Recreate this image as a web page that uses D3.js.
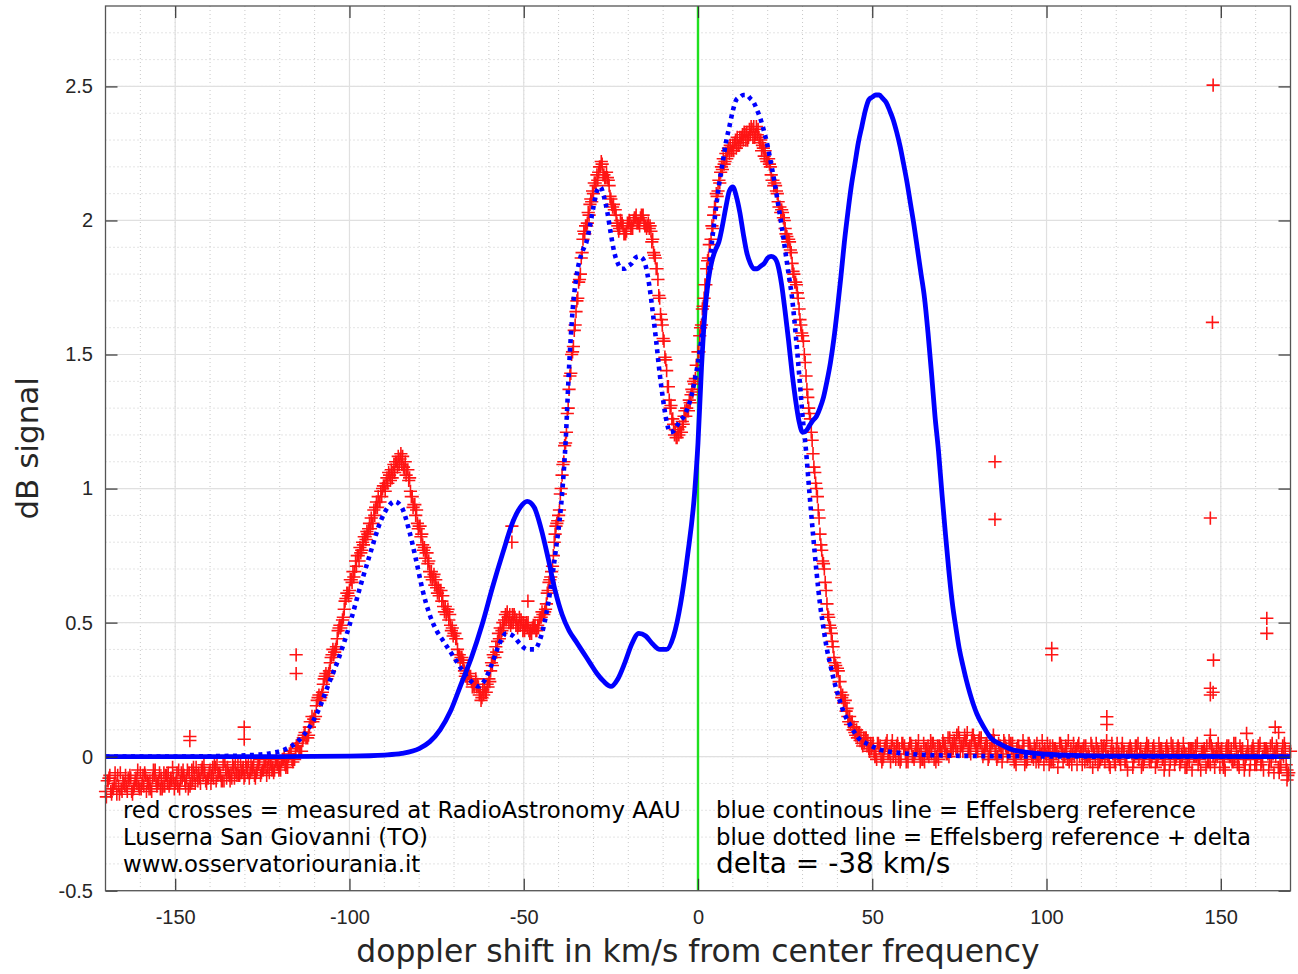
<!DOCTYPE html>
<html><head><meta charset="utf-8">
<script src="https://cdn.jsdelivr.net/npm/d3@7"></script>
<style>body{margin:0;background:#fff} svg{display:block}</style>
</head><body><svg id="c" width="1298" height="974"></svg>
<script>
// ---- data ----
const xTicks = [-150, -100, -50, 0, 50, 100, 150];
const xTickLabels = ['-150', '-100', '-50', '0', '50', '100', '150'];
const yTicks = [-0.5, 0, 0.5, 1, 1.5, 2, 2.5];
const yTickLabels = ['-0.5', '0', '0.5', '1', '1.5', '2', '2.5'];

// Effelsberg reference (blue continuous)
const refX = [-170, -120, -100, -90, -85, -80, -77, -74, -71, -68,
  -65, -62, -59, -56, -53, -51, -49, -47, -45, -43,
  -41, -39, -37, -35, -33, -31, -29, -27, -25, -23,
  -21, -19, -17, -15, -13, -11, -9, -7, -5, -3,
  -1, 0, 1, 2, 3, 4, 5, 6, 7, 8,
  9, 10, 11, 12, 13, 14, 15, 16, 17, 18,
  19, 20, 21, 22, 23, 24, 25, 26, 27, 28,
  29, 30, 31, 32, 33, 34, 35, 36, 37, 38,
  39, 40, 41, 42, 43, 44, 45, 46, 47, 48,
  49, 50, 51, 52, 53, 54, 55, 56, 57, 58,
  59, 60, 61, 62, 63, 64, 65, 66, 67, 68,
  69, 70, 71, 72, 73, 74, 75, 76, 77, 78,
  80, 82, 84, 87, 90, 95, 100, 110, 120, 170];
const refY = [0, 0, 0.002, 0.006, 0.012, 0.03, 0.055, 0.1, 0.17, 0.27,
  0.37, 0.49, 0.63, 0.76, 0.88, 0.93, 0.952, 0.93, 0.85, 0.74,
  0.62, 0.53, 0.47, 0.43, 0.39, 0.35, 0.31, 0.28, 0.262, 0.29,
  0.35, 0.42, 0.46, 0.45, 0.42, 0.40, 0.40, 0.45, 0.57, 0.75,
  0.98, 1.17, 1.45, 1.66, 1.78, 1.85, 1.89, 1.92, 1.98, 2.05,
  2.11, 2.125, 2.09, 2.03, 1.95, 1.88, 1.84, 1.82, 1.82, 1.83,
  1.84, 1.86, 1.866, 1.86, 1.83, 1.76, 1.66, 1.55, 1.43, 1.33,
  1.25, 1.21, 1.215, 1.235, 1.255, 1.27, 1.30, 1.34, 1.40, 1.47,
  1.56, 1.67, 1.79, 1.92, 2.03, 2.13, 2.21, 2.29, 2.35, 2.41,
  2.45, 2.46, 2.468, 2.468, 2.455, 2.44, 2.41, 2.376, 2.33, 2.276,
  2.21, 2.14, 2.06, 1.98, 1.89, 1.80, 1.71, 1.58, 1.43, 1.27,
  1.14, 0.98, 0.83, 0.69, 0.57, 0.48, 0.40, 0.34, 0.285, 0.237,
  0.16, 0.11, 0.07, 0.045, 0.027, 0.015, 0.009, 0.004, 0.002, 0];

// Effelsberg reference + delta (blue dotted), delta = -38 km/s
const dotX = [-170, -158, -138, -128, -123, -118, -115, -112, -109, -106,
  -103, -100, -97, -94, -91, -89, -87, -85, -83, -81,
  -79, -77, -75, -73, -71, -69, -67, -65, -63, -61,
  -59, -57, -55, -53, -51, -49, -47, -45, -43, -41,
  -39, -38, -37, -36, -35, -34, -33, -32, -31, -30,
  -29, -28, -27, -26, -25, -24, -23, -22, -21, -20,
  -19, -18, -17, -16, -15, -14, -13, -12, -11, -10,
  -9, -8, -7, -6, -5, -4, -3, -2, -1, 0,
  1, 2, 3, 4, 5, 6, 7, 8, 9, 10,
  11, 12, 13, 14, 15, 16, 17, 18, 19, 20,
  21, 22, 23, 24, 25, 26, 27, 28, 29, 30,
  31, 32, 33, 34, 35, 36, 37, 38, 39, 40,
  42, 44, 46, 49, 52, 57, 62, 72, 82, 132, 170];
const dotY = [0, 0, 0.002, 0.006, 0.012, 0.03, 0.055, 0.1, 0.17, 0.27,
  0.37, 0.49, 0.63, 0.76, 0.88, 0.93, 0.952, 0.93, 0.85, 0.74,
  0.62, 0.53, 0.47, 0.43, 0.39, 0.35, 0.31, 0.28, 0.262, 0.29,
  0.35, 0.42, 0.46, 0.45, 0.42, 0.40, 0.40, 0.45, 0.57, 0.75,
  0.98, 1.17, 1.45, 1.66, 1.78, 1.85, 1.89, 1.92, 1.98, 2.05,
  2.11, 2.125, 2.09, 2.03, 1.95, 1.88, 1.84, 1.82, 1.82, 1.83,
  1.84, 1.86, 1.866, 1.86, 1.83, 1.76, 1.66, 1.55, 1.43, 1.33,
  1.25, 1.21, 1.215, 1.235, 1.255, 1.27, 1.30, 1.34, 1.40, 1.47,
  1.56, 1.67, 1.79, 1.92, 2.03, 2.13, 2.21, 2.29, 2.35, 2.41,
  2.45, 2.46, 2.468, 2.468, 2.455, 2.44, 2.41, 2.376, 2.33, 2.276,
  2.21, 2.14, 2.06, 1.98, 1.89, 1.80, 1.71, 1.58, 1.43, 1.27,
  1.14, 0.98, 0.83, 0.69, 0.57, 0.48, 0.40, 0.34, 0.285, 0.237,
  0.16, 0.11, 0.07, 0.045, 0.027, 0.015, 0.009, 0.004, 0.002, 0, 0];

// measured (red crosses): four interleaved sweeps, one sample per km/s each
const measStep = 1;
const measStartA = -170;
const measA = [
  -0.13, -0.08, -0.12, -0.10, -0.14, -0.09, -0.11, -0.07, -0.12, -0.10,
  -0.06, -0.11, -0.09, -0.12, -0.07, -0.10, -0.08, -0.11, -0.06, -0.09,
  -0.10, -0.05, -0.08, -0.11, -0.06, -0.09, -0.04, -0.08, -0.07, -0.10,
  -0.05, -0.08, -0.03, -0.07, -0.09, -0.04, -0.06, -0.08, -0.03, -0.06,
  -0.07, -0.02, -0.05, -0.08, -0.03, -0.05, -0.02, -0.06, -0.04, -0.01,
  -0.04, -0.01, -0.03, 0.01, -0.01, 0.04, 0.02, 0.08, 0.07, 0.13,
  0.15, 0.22, 0.23, 0.30, 0.31, 0.38, 0.40, 0.48, 0.51, 0.59,
  0.62, 0.69, 0.71, 0.78, 0.79, 0.84, 0.85, 0.92, 0.93, 0.99,
  1.01, 1.02, 1.07, 1.06, 1.12, 1.09, 1.10, 1.03, 0.97, 0.90,
  0.86, 0.79, 0.76, 0.69, 0.67, 0.63, 0.62, 0.56, 0.54, 0.49,
  0.46, 0.40, 0.37, 0.32, 0.31, 0.28, 0.27, 0.26, 0.22, 0.24,
  0.29, 0.34, 0.41, 0.44, 0.50, 0.51, 0.53, 0.50, 0.51, 0.49,
  0.50, 0.48, 0.47, 0.48, 0.49, 0.52, 0.54, 0.62, 0.69, 0.83,
  0.90, 1.05, 1.17, 1.37, 1.51, 1.66, 1.78, 1.93, 1.98, 2.06,
  2.10, 2.17, 2.20, 2.17, 2.16, 2.08, 2.04, 1.98, 1.99, 1.95,
  1.99, 1.98, 2.01, 1.99, 2.02, 1.98, 1.97, 1.93, 1.82, 1.71,
  1.56, 1.44, 1.30, 1.24, 1.19, 1.21, 1.27, 1.29, 1.35, 1.39,
  1.51, 1.61, 1.76, 1.86, 1.98, 2.05, 2.15, 2.19, 2.25, 2.25,
  2.28, 2.27, 2.31, 2.30, 2.33, 2.32, 2.35, 2.32, 2.30, 2.24,
  2.23, 2.17, 2.14, 2.07, 2.04, 1.97, 1.93, 1.84, 1.77, 1.67,
  1.57, 1.42, 1.28, 1.13, 1.00, 0.83, 0.72, 0.57, 0.48, 0.37,
  0.33, 0.24, 0.21, 0.15, 0.13, 0.09, 0.09, 0.05, 0.07, 0.03,
  0.04, 0.01, 0.03, -0.01, 0.05, 0.02, 0.00, 0.04, -0.02, 0.03,
  0.01, 0.05, -0.01, 0.03, 0.02, -0.02, 0.04, 0.01, 0.03, -0.01,
  0.02, 0.04, 0.00, 0.05, 0.03, 0.07, 0.02, 0.06, 0.04, 0.08,
  0.03, 0.05, 0.01, 0.04, 0.02, 0.06, 0.00, 0.03, 0.05, 0.01,
  0.03, -0.01, 0.04, 0.02, 0.00, 0.05, 0.01, -0.02, 0.03, 0.02,
  0.00, 0.04, -0.02, 0.02, 0.05, 0.01, -0.01, 0.03, 0.00, 0.04,
  0.02, -0.02, 0.01, 0.04, -0.01, 0.02, 0.00, 0.03, -0.03, 0.01,
  0.03, -0.01, 0.02, 0.00, 0.04, -0.02, 0.01, 0.03, -0.01, 0.02,
  -0.02, 0.02, 0.00, 0.03, -0.03, 0.01, 0.02, -0.01, 0.03, 0.00,
  0.01, -0.02, 0.03, 0.00, -0.01, 0.02, 0.04, -0.03, 0.01, 0.00,
  0.02, -0.02, 0.01, 0.03, -0.01, 0.00, 0.02, -0.03, 0.01, 0.03,
  -0.01, 0.02, 0.00, 0.03, -0.02, 0.01, 0.04, -0.03, 0.00, -0.05, 0.02];

const measStartB = -169.5;
const measB = [
  -0.09, -0.13, -0.10, -0.07, -0.12, -0.11, -0.08, -0.13, -0.09, -0.11,
  -0.10, -0.07, -0.12, -0.08, -0.09, -0.06, -0.11, -0.07, -0.10, -0.08,
  -0.06, -0.09, -0.07, -0.05, -0.10, -0.07, -0.09, -0.05, -0.06, -0.08,
  -0.07, -0.04, -0.06, -0.09, -0.05, -0.07, -0.03, -0.06, -0.07, -0.04,
  -0.04, -0.06, -0.03, -0.05, -0.07, -0.02, -0.04, -0.03, -0.05, -0.03,
  -0.02, -0.03, 0.00, -0.01, 0.03, 0.02, 0.06, 0.07, 0.11, 0.13,
  0.19, 0.21, 0.27, 0.29, 0.35, 0.38, 0.44, 0.48, 0.55, 0.61,
  0.66, 0.69, 0.75, 0.77, 0.82, 0.85, 0.87, 0.93, 0.95, 1.00,
  1.02, 1.05, 1.06, 1.10, 1.11, 1.08, 1.07, 0.99, 0.94, 0.87,
  0.82, 0.78, 0.72, 0.69, 0.64, 0.63, 0.58, 0.56, 0.51, 0.48,
  0.44, 0.38, 0.36, 0.31, 0.30, 0.27, 0.26, 0.24, 0.23, 0.27,
  0.32, 0.37, 0.43, 0.46, 0.51, 0.52, 0.50, 0.52, 0.49, 0.50,
  0.49, 0.47, 0.48, 0.47, 0.51, 0.53, 0.57, 0.66, 0.75, 0.87,
  0.98, 1.10, 1.28, 1.43, 1.59, 1.71, 1.86, 1.95, 2.03, 2.07,
  2.14, 2.18, 2.21, 2.16, 2.13, 2.05, 2.02, 1.97, 1.98, 1.96,
  1.99, 2.00, 1.99, 2.01, 1.99, 1.98, 1.96, 1.87, 1.78, 1.63,
  1.49, 1.38, 1.26, 1.22, 1.20, 1.25, 1.27, 1.33, 1.36, 1.46,
  1.57, 1.68, 1.82, 1.91, 2.02, 2.09, 2.18, 2.21, 2.26, 2.26,
  2.29, 2.28, 2.31, 2.32, 2.31, 2.34, 2.32, 2.31, 2.28, 2.23,
  2.21, 2.15, 2.11, 2.05, 2.01, 1.94, 1.89, 1.80, 1.73, 1.61,
  1.50, 1.34, 1.21, 1.06, 0.92, 0.77, 0.65, 0.52, 0.43, 0.34,
  0.28, 0.23, 0.17, 0.15, 0.10, 0.10, 0.06, 0.07, 0.04, 0.05,
  0.02, 0.05, 0.00, 0.03, 0.01, 0.04, 0.02, -0.01, 0.05, 0.01,
  0.03, 0.00, 0.04, 0.01, -0.01, 0.03, 0.02, 0.05, 0.00, 0.03,
  0.05, 0.01, 0.03, 0.06, 0.02, 0.04, 0.08, 0.03, 0.06, 0.05,
  0.06, 0.02, 0.04, 0.00, 0.05, 0.02, 0.04, 0.01, 0.03, 0.04,
  0.00, 0.03, 0.01, 0.04, -0.01, 0.02, 0.04, 0.00, 0.01, 0.03,
  0.02, -0.01, 0.03, 0.00, 0.02, 0.04, -0.02, 0.01, 0.03, 0.00,
  0.03, 0.00, -0.02, 0.02, 0.03, -0.01, 0.04, 0.00, 0.02, -0.02,
  0.00, 0.03, -0.02, 0.02, 0.01, 0.04, -0.01, 0.00, 0.03, -0.02,
  0.03, -0.01, 0.02, 0.00, 0.04, -0.02, 0.01, 0.03, -0.02, 0.02,
  -0.01, 0.03, 0.00, -0.03, 0.02, 0.01, -0.02, 0.03, 0.00, 0.02,
  -0.01, 0.03, 0.00, -0.02, 0.02, 0.04, -0.01, 0.01, -0.03, 0.02,
  0.00, -0.03, 0.03, 0.01, -0.02, 0.02, -0.04, 0.01, 0.03, -0.06];

const measStartC = -169.75;
const measC = [
  -0.15, -0.07, -0.12, -0.14, -0.06, -0.10, -0.13, -0.08, -0.11, -0.05,
  -0.12, -0.06, -0.10, -0.13, -0.05, -0.09, -0.12, -0.07, -0.11, -0.04,
  -0.09, -0.12, -0.05, -0.08, -0.11, -0.04, -0.07, -0.10, -0.03, -0.08,
  -0.10, -0.03, -0.07, -0.09, -0.02, -0.06, -0.08, -0.03, -0.07, -0.05,
  -0.02, -0.08, -0.04, -0.06, -0.01, -0.05, -0.07, -0.02, -0.06, -0.03,
  -0.05, 0.00, -0.04, 0.02, -0.01, 0.05, 0.02, 0.09, 0.08, 0.15,
  0.15, 0.23, 0.24, 0.31, 0.32, 0.40, 0.41, 0.49, 0.52, 0.61,
  0.66, 0.67, 0.75, 0.76, 0.82, 0.83, 0.89, 0.90, 0.97, 0.97,
  0.99, 1.06, 1.04, 1.10, 1.09, 1.12, 1.05, 1.04, 0.93, 0.92,
  0.86, 0.77, 0.76, 0.67, 0.68, 0.61, 0.62, 0.54, 0.55, 0.47,
  0.46, 0.38, 0.37, 0.30, 0.31, 0.26, 0.29, 0.23, 0.25, 0.24,
  0.28, 0.38, 0.39, 0.48, 0.48, 0.54, 0.49, 0.53, 0.48, 0.51,
  0.47, 0.50, 0.46, 0.49, 0.48, 0.54, 0.55, 0.65, 0.71, 0.86,
  0.92, 1.09, 1.21, 1.42, 1.53, 1.70, 1.80, 1.96, 1.99, 2.08,
  2.14, 2.15, 2.22, 2.16, 2.15, 2.06, 2.04, 1.96, 1.99, 1.95,
  2.00, 1.97, 2.02, 1.98, 2.02, 1.97, 1.98, 1.88, 1.82, 1.65,
  1.55, 1.38, 1.31, 1.20, 1.22, 1.21, 1.29, 1.29, 1.37, 1.41,
  1.51, 1.67, 1.76, 1.91, 1.97, 2.10, 2.14, 2.23, 2.23, 2.28,
  2.26, 2.31, 2.29, 2.33, 2.30, 2.35, 2.31, 2.34, 2.26, 2.26,
  2.23, 2.15, 2.13, 2.05, 2.03, 1.95, 1.92, 1.81, 1.76, 1.63,
  1.55, 1.37, 1.26, 1.08, 0.97, 0.79, 0.70, 0.53, 0.46, 0.35,
  0.32, 0.22, 0.21, 0.13, 0.13, 0.08, 0.09, 0.04, 0.07, 0.02,
  0.05, -0.01, 0.04, 0.00, 0.06, -0.02, 0.03, 0.05, -0.01, 0.04,
  -0.02, 0.04, 0.01, 0.06, -0.01, 0.03, 0.00, 0.05, -0.02, 0.04,
  0.06, 0.01, 0.07, 0.03, 0.08, 0.02, 0.05, 0.09, 0.01, 0.06,
  0.02, 0.07, 0.03, -0.01, 0.06, 0.01, 0.05, -0.02, 0.04, 0.06,
  0.05, -0.03, 0.02, 0.06, -0.02, 0.04, -0.01, 0.05, 0.00, -0.03,
  0.05, -0.02, 0.03, -0.04, 0.04, 0.00, 0.06, -0.03, 0.02, 0.05,
  -0.03, 0.04, 0.00, -0.04, 0.05, -0.02, 0.03, 0.06, -0.04, 0.02,
  0.05, -0.03, 0.02, -0.05, 0.03, 0.00, 0.05, -0.04, 0.01, 0.04,
  0.00, -0.04, 0.05, -0.01, 0.03, -0.05, 0.04, 0.00, -0.03, 0.05,
  -0.04, 0.03, 0.00, 0.05, -0.05, 0.03, -0.02, 0.04, -0.04, 0.05,
  0.03, -0.05, 0.04, -0.02, 0.05, -0.04, 0.03, 0.00, -0.05, 0.04,
  -0.03, 0.05, -0.05, 0.02, 0.04, -0.06, 0.03, -0.04, 0.05, -0.07];

const measStartD = -169.25;
const measD = [
  -0.09, -0.14, -0.06, -0.11, -0.13, -0.07, -0.09, -0.14, -0.08, -0.12,
  -0.07, -0.13, -0.09, -0.05, -0.11, -0.12, -0.06, -0.10, -0.08, -0.12,
  -0.11, -0.06, -0.09, -0.12, -0.05, -0.10, -0.06, -0.04, -0.09, -0.06,
  -0.04, -0.09, -0.06, -0.03, -0.08, -0.09, -0.04, -0.07, -0.02, -0.08,
  -0.06, -0.03, -0.07, -0.02, -0.06, -0.04, -0.01, -0.05, -0.02, -0.05,
  -0.01, -0.04, 0.01, -0.02, 0.04, 0.02, 0.07, 0.07, 0.13, 0.14,
  0.21, 0.22, 0.29, 0.30, 0.37, 0.39, 0.47, 0.49, 0.58, 0.60,
  0.65, 0.73, 0.73, 0.80, 0.81, 0.87, 0.87, 0.95, 0.95, 1.01,
  1.04, 1.03, 1.09, 1.08, 1.13, 1.07, 1.07, 0.97, 0.94, 0.85,
  0.83, 0.74, 0.73, 0.66, 0.66, 0.60, 0.60, 0.53, 0.53, 0.45,
  0.44, 0.36, 0.35, 0.29, 0.30, 0.26, 0.27, 0.21, 0.26, 0.26,
  0.35, 0.37, 0.46, 0.47, 0.53, 0.50, 0.53, 0.49, 0.52, 0.47,
  0.50, 0.46, 0.49, 0.47, 0.52, 0.53, 0.61, 0.67, 0.80, 0.88,
  1.00, 1.16, 1.30, 1.50, 1.61, 1.77, 1.88, 1.98, 2.02, 2.11,
  2.13, 2.20, 2.17, 2.18, 2.09, 2.06, 1.99, 2.00, 1.95, 1.99,
  1.97, 2.01, 1.99, 2.02, 1.98, 1.99, 1.92, 1.86, 1.72, 1.61,
  1.48, 1.33, 1.26, 1.19, 1.23, 1.24, 1.30, 1.32, 1.40, 1.46,
  1.60, 1.71, 1.85, 1.93, 2.05, 2.11, 2.20, 2.22, 2.27, 2.26,
  2.30, 2.28, 2.32, 2.30, 2.34, 2.31, 2.35, 2.29, 2.27, 2.22,
  2.20, 2.13, 2.10, 2.03, 2.00, 1.92, 1.88, 1.77, 1.71, 1.58,
  1.47, 1.30, 1.18, 1.02, 0.89, 0.73, 0.62, 0.49, 0.41, 0.32,
  0.28, 0.20, 0.18, 0.12, 0.11, 0.07, 0.08, 0.05, 0.06, 0.03,
  0.00, 0.05, -0.02, 0.04, 0.01, 0.06, -0.01, 0.03, 0.05, -0.02,
  0.05, 0.00, 0.03, -0.02, 0.05, 0.01, 0.06, -0.01, 0.04, 0.02,
  0.03, 0.07, 0.02, 0.05, 0.09, 0.04, 0.06, 0.02, 0.08, 0.03,
  0.07, 0.00, 0.05, 0.03, 0.08, -0.01, 0.04, 0.06, 0.00, 0.05,
  -0.02, 0.04, 0.01, -0.03, 0.05, 0.00, 0.03, -0.02, 0.06, 0.01,
  -0.03, 0.04, 0.01, 0.05, -0.02, 0.03, 0.00, 0.05, -0.03, 0.02,
  0.04, -0.01, 0.05, 0.01, -0.03, 0.04, -0.02, 0.00, 0.05, -0.03,
  0.02, 0.05, -0.02, 0.03, -0.04, 0.04, 0.01, -0.03, 0.05, 0.00,
  0.04, -0.02, 0.03, -0.05, 0.02, 0.05, -0.03, 0.04, 0.01, -0.04,
  0.03, -0.05, 0.04, -0.01, 0.02, -0.04, 0.05, 0.00, 0.03, -0.04,
  -0.04, 0.04, 0.00, 0.05, -0.03, 0.02, -0.05, 0.04, 0.02, -0.03,
  0.04, -0.02, 0.02, -0.05, 0.05, 0.00, -0.06, 0.04, -0.03, 0.02];

// isolated outlier crosses
const outX = [147.8, 147.6, 85.2, 85.2, 147.0, 101.5, 101.5, 163.2, 163.2, 147.9,
  147.0, 147.8, 147.0, 117.3, 117.3, -115.3, -115.3, -145.8, -145.8, -130.2,
  -130.2, -53.4, -53.4, -48.8, 165.6, 166.6, 157.4, 169.0, 147.0];
const outY = [2.505, 1.62, 1.10, 0.885, 0.89, 0.404, 0.38, 0.516, 0.46, 0.36,
  0.255, 0.24, 0.23, 0.149, 0.12, 0.38, 0.31, 0.075, 0.06, 0.11,
  0.065, 0.86, 0.80, 0.58, 0.11, 0.09, 0.087, -0.087, 0.08];

const legendLeft = ['red crosses = measured at RadioAstronomy AAU', 'Luserna San Giovanni (TO)', 'www.osservatoriourania.it'];
const legendRight = ['blue continous line = Effelsberg reference', 'blue dotted line = Effelsberg reference + delta'];
const legendDelta = 'delta = -38 km/s';
const xLabel = 'doppler shift in km/s from center frequency';
const yLabel = 'dB signal';

// ---- drawing ----
const svg = d3.select('#c');
const L = 105.5, R = 1290.5, T = 6, B = 890.7;
const x = d3.scaleLinear().domain([-170, 170]).range([L, R]);
const y = d3.scaleLinear().domain([-0.5, 2.8]).range([B, T]);

const grid = svg.append('g');
grid.selectAll('.mx').data(d3.range(-160, 170, 10)).join('line')
  .attr('x1', d => x(d)).attr('x2', d => x(d)).attr('y1', T).attr('y2', B)
  .attr('stroke', '#c8c8c8').attr('stroke-width', 1).attr('stroke-dasharray', '1,3');
grid.selectAll('.my').data(d3.range(-4, 28, 1).map(v => v / 10)).join('line')
  .attr('y1', d => y(d)).attr('y2', d => y(d)).attr('x1', L).attr('x2', R)
  .attr('stroke', '#c8c8c8').attr('stroke-width', 1).attr('stroke-dasharray', '1,3');
grid.selectAll('.gx').data(xTicks).join('line')
  .attr('x1', d => x(d)).attr('x2', d => x(d)).attr('y1', T).attr('y2', B)
  .attr('stroke', '#e0e0e0').attr('stroke-width', 1.2);
grid.selectAll('.gy').data(yTicks).join('line')
  .attr('y1', d => y(d)).attr('y2', d => y(d)).attr('x1', L).attr('x2', R)
  .attr('stroke', '#e0e0e0').attr('stroke-width', 1.2);

// green zero line
svg.append('line').attr('x1', x(0)).attr('x2', x(0)).attr('y1', T).attr('y2', B)
  .attr('stroke', '#1fe01f').attr('stroke-width', 2.4);

// red crosses
const sweep = (arr, start) => arr.map((v, i) => [start + i * measStep, v]);
const crosses = sweep(measA, measStartA)
  .concat(sweep(measB, measStartB))
  .concat(sweep(measC, measStartC))
  .concat(sweep(measD, measStartD))
  .concat(outX.map((v, i) => [v, outY[i]]));
const cs = 6.6;
svg.append('path')
  .attr('d', crosses.map(([a, b]) => {
    const px = x(a), py = y(b);
    return `M${px - cs},${py}H${px + cs}M${px},${py - cs}V${py + cs}`;
  }).join(''))
  .attr('fill', 'none').attr('stroke', '#ff0000').attr('stroke-width', 1.6).attr('stroke-opacity', 0.92);

// blue lines
const line = d3.line().x(d => x(d[0])).y(d => y(d[1])).curve(d3.curveMonotoneX);
svg.append('path').datum(refX.map((v, i) => [v, refY[i]]))
  .attr('d', line).attr('fill', 'none').attr('stroke', '#0000ff').attr('stroke-width', 4.8)
  .attr('stroke-linejoin', 'round');
svg.append('path').datum(dotX.map((v, i) => [v, dotY[i]]))
  .attr('d', line).attr('fill', 'none').attr('stroke', '#0000ff').attr('stroke-width', 4.6)
  .attr('stroke-dasharray', '4,4.5');

// axes
const tickFont = '"Liberation Sans", Arial, sans-serif';
function styleAxis(g, labels) {
  g.select('.domain').remove();
  g.selectAll('.tick line').attr('stroke', '#333').attr('stroke-width', 1.2);
  g.selectAll('text').attr('fill', '#262626').style('font-family', tickFont).style('font-size', '20px');
  if (!labels) g.selectAll('text').remove();
}
svg.append('g').attr('transform', `translate(0,${B})`)
  .call(d3.axisBottom(x).tickValues(xTicks).tickSize(-12).tickPadding(19).tickFormat((d, i) => xTickLabels[i]))
  .call(g => styleAxis(g, true));
svg.append('g').attr('transform', `translate(0,${T})`)
  .call(d3.axisTop(x).tickValues(xTicks).tickSize(-12))
  .call(g => styleAxis(g, false));
svg.append('g').attr('transform', `translate(${L},0)`)
  .call(d3.axisLeft(y).tickValues(yTicks).tickSize(-12).tickPadding(12.5).tickFormat((d, i) => yTickLabels[i]))
  .call(g => styleAxis(g, true));
svg.append('g').attr('transform', `translate(${R},0)`)
  .call(d3.axisRight(y).tickValues(yTicks).tickSize(-12))
  .call(g => styleAxis(g, false));

// frame
svg.append('rect').attr('x', L).attr('y', T).attr('width', R - L).attr('height', B - T)
  .attr('fill', 'none').attr('stroke', '#555').attr('stroke-width', 1.3);

// labels
const lblFont = '"DejaVu Sans", sans-serif';
svg.append('text').attr('x', x(0)).attr('y', 962).attr('text-anchor', 'middle')
  .style('font-family', lblFont).style('font-size', '31.4px').attr('fill', '#262626').text(xLabel);
svg.append('text').attr('transform', `translate(38,${y(1.15)}) rotate(-90)`).attr('text-anchor', 'middle')
  .style('font-family', lblFont).style('font-size', '31px').attr('fill', '#262626').text(yLabel);

const legFont = '"DejaVu Sans", sans-serif';
legendLeft.forEach((t, i) => {
  svg.append('text').attr('x', 123).attr('y', 818 + i * 27)
    .style('font-family', legFont).style('font-size', '22.8px').attr('fill', '#000').text(t);
});
legendRight.forEach((t, i) => {
  svg.append('text').attr('x', 716).attr('y', 818 + i * 27)
    .style('font-family', legFont).style('font-size', '22.8px').attr('fill', '#000').text(t);
});
svg.append('text').attr('x', 716).attr('y', 873)
  .style('font-family', legFont).style('font-size', '28px').attr('fill', '#000').text(legendDelta);
</script>
</body></html>
